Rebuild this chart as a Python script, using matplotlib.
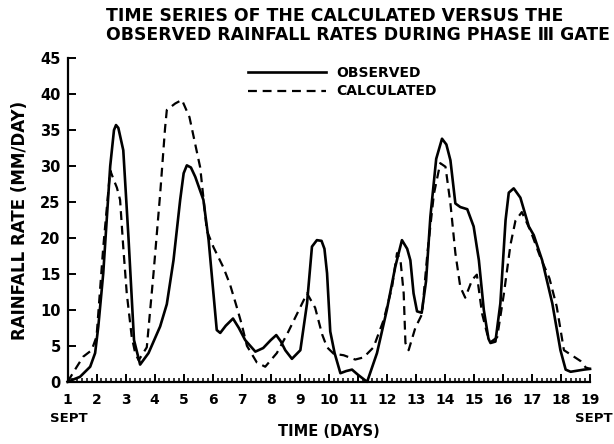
import matplotlib
matplotlib.use("Agg")
import matplotlib.pyplot as plt
from matplotlib.ticker import MultipleLocator, FixedLocator

# ---- data (day of September, rainfall rate mm/day) ----
obs_day = [1.0, 1.43, 1.78, 1.95, 2.06, 2.23, 2.47, 2.6, 2.67, 2.75, 2.92, 3.1, 3.29, 3.5,
           3.79, 4.19, 4.42, 4.65, 4.88, 5.0, 5.11, 5.25, 5.4, 5.68, 5.86, 6.14, 6.26, 6.45,
           6.7, 6.9, 7.12, 7.47, 7.74, 8.0, 8.19, 8.35, 8.5, 8.73, 9.02, 9.25, 9.42, 9.59,
           9.75, 9.85, 9.94, 10.05, 10.2, 10.4, 10.6, 10.8, 11.0, 11.32, 11.66, 12.0, 12.29,
           12.52, 12.7, 12.81, 12.92, 13.04, 13.2, 13.35, 13.5, 13.7, 13.9, 14.05, 14.19,
           14.36, 14.53, 14.77, 14.99, 15.17, 15.34, 15.5, 15.57, 15.74, 15.91, 16.09, 16.2,
           16.37, 16.6, 16.89, 17.06, 17.35, 17.7, 17.98, 18.16, 18.33, 18.79, 19.0]
obs_rate = [0.0, 0.7, 2.1, 4.0, 7.7, 15.1, 30.0, 35.0, 35.7, 35.3, 32.2, 20.0, 5.8, 2.4,
            4.0, 7.7, 10.8, 16.9, 25.3, 29.0, 30.1, 29.8, 28.5, 25.3, 19.7, 7.2, 6.8, 7.8,
            8.8, 7.5, 5.8, 4.2, 4.7, 5.8, 6.5, 5.6, 4.4, 3.2, 4.4, 10.9, 18.8, 19.7,
            19.6, 18.5, 15.1, 7.0, 4.0, 1.2, 1.5, 1.7, 1.0, 0.0, 4.0, 10.0, 16.0,
            19.7, 18.5, 16.9, 12.3, 9.8, 9.6, 14.0, 23.0, 31.0, 33.8, 33.0, 30.8,
            24.8, 24.3, 24.0, 21.6, 16.9, 10.0, 6.0, 5.4, 5.6, 10.9, 22.5, 26.3,
            26.9, 25.6, 21.6, 20.4, 16.9, 10.9, 4.4, 1.7, 1.4, 1.7, 1.8]

calc_day = [1.0, 1.32, 1.54, 1.83, 2.0, 2.23, 2.47, 2.58, 2.7, 2.81, 2.92, 3.04, 3.21, 3.33,
            3.45, 3.73, 3.96, 4.19, 4.36, 4.42, 4.71, 4.94, 5.2, 5.57, 5.8, 6.03, 6.37, 6.6,
            6.8, 7.0, 7.18, 7.52, 7.81, 8.21, 8.56, 8.9, 9.25, 9.53, 9.77, 9.94, 10.17, 10.51,
            10.91, 11.2, 11.54, 11.89, 12.18, 12.35, 12.47, 12.58, 12.64, 12.75, 12.98, 13.21,
            13.4, 13.62, 13.84, 14.02, 14.19, 14.36, 14.53, 14.7, 14.94, 15.1, 15.28, 15.46,
            15.6, 15.8, 16.03, 16.26, 16.43, 16.65, 16.95, 17.29, 17.6, 17.85, 18.1, 18.33,
            18.67, 18.85, 19.0]
calc_rate = [0.0, 2.1, 3.5, 4.4, 6.3, 18.7, 29.4, 28.2, 27.0, 25.3, 18.7, 12.3, 6.3, 4.0,
             3.0, 4.8, 15.0, 26.1, 35.3, 37.8, 38.7, 39.2, 36.8, 29.8, 21.0, 18.7, 15.9, 13.5,
             10.8, 8.0, 5.0, 2.7, 2.1, 4.0, 6.6, 9.4, 12.3, 10.3, 6.6, 4.8, 3.9, 3.7,
             3.1, 3.4, 4.8, 8.6, 13.2, 17.9, 16.9, 12.3, 5.4, 4.4, 7.5, 9.4,
             18.0, 26.1, 30.4, 29.9, 24.8, 17.9, 13.2, 11.7, 14.2, 14.9, 9.5, 6.6,
             5.6, 6.2, 12.2, 19.1, 22.4, 23.6, 21.0, 17.3, 14.4, 10.5, 4.4, 3.8,
             2.9, 2.0, 1.8]

day_ticks = list(range(1, 20))
day_labels = [str(d) for d in day_ticks]
month_label = "SEPT"
rate_ticks = list(range(0, 50, 5))

title = "TIME SERIES OF THE CALCULATED VERSUS THE\nOBSERVED RAINFALL RATES DURING PHASE \u2162 GATE"

plt.rcParams['font.family'] = ['DejaVu Sans']

fig = plt.figure(figsize=(6.14, 4.44), dpi=100)
ax = fig.add_axes([0.110, 0.140, 0.851, 0.729])

ax.plot(obs_day, obs_rate, color='black', lw=1.9, solid_joinstyle='round',
        label='OBSERVED', clip_on=False)
ax.plot(calc_day, calc_rate, color='black', lw=1.6, dashes=(4, 2.6),
        label='CALCULATED', clip_on=False)

ax.set_xlim(1, 19)
ax.set_ylim(0, 45)

for s in ['top', 'right']:
    ax.spines[s].set_visible(False)
for s in ['left', 'bottom']:
    ax.spines[s].set_linewidth(1.6)

ax.xaxis.set_major_locator(FixedLocator(day_ticks))
ax.set_xticklabels(day_labels, fontsize=10, fontweight='bold')
ax.xaxis.set_minor_locator(MultipleLocator(1 / 6))
ax.set_yticks(rate_ticks)
ax.set_yticklabels([str(r) for r in rate_ticks], fontsize=10.5, fontweight='bold')

ax.tick_params(axis='x', which='major', direction='in', length=6, width=1.4, pad=8)
ax.tick_params(axis='y', which='major', direction='in', length=6, width=1.4, pad=5)
ax.tick_params(axis='x', which='minor', direction='in', length=3, width=1.1)

# month labels under first and last day
ax.annotate(month_label, xy=(day_ticks[0], 0), xycoords=('data', 'axes fraction'),
            xytext=(1, -22), textcoords='offset points', ha='center', va='top',
            fontsize=9.5, fontweight='bold')
ax.annotate(month_label, xy=(day_ticks[-1], 0), xycoords=('data', 'axes fraction'),
            xytext=(2.5, -22), textcoords='offset points', ha='center', va='top',
            fontsize=9.5, fontweight='bold')

ax.set_xlabel("TIME (DAYS)", fontsize=10.5, fontweight='bold', labelpad=12)
ax.set_ylabel("RAINFALL RATE (MM/DAY)", fontsize=12, fontweight='bold', labelpad=8)

fig.text(0.172, 0.985, title, ha='left', va='top', fontsize=12.4, fontweight='bold',
         linespacing=1.1)

leg = ax.legend(loc='upper left', bbox_to_anchor=(0.345, 0.975), frameon=False,
                fontsize=10, handlelength=5.6, handletextpad=0.75, labelspacing=0.3,
                borderpad=0, borderaxespad=0)
for t in leg.get_texts():
    t.set_fontweight('bold')

fig.savefig("out.png", dpi=100)
